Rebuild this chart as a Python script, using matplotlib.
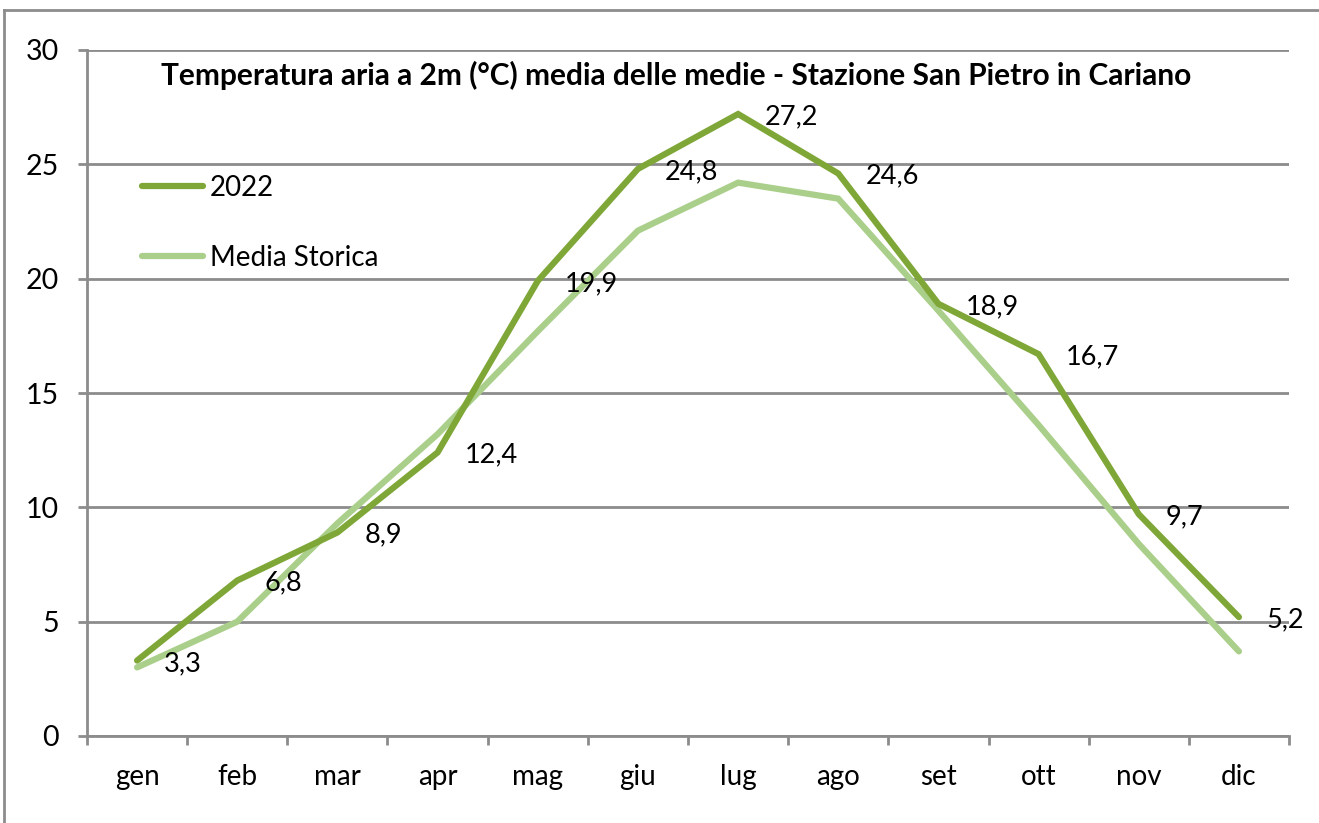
import numpy as np
import matplotlib
matplotlib.use("Agg")
import matplotlib.pyplot as plt
from matplotlib.lines import Line2D

# data
mesi = ["gen", "feb", "mar", "apr", "mag", "giu", "lug", "ago", "set", "ott", "nov", "dic"]
t_2022 = [3.3, 6.8, 8.9, 12.4, 19.9, 24.8, 27.2, 24.6, 18.9, 16.7, 9.7, 5.2]
media_storica = [3.0, 5.0, 9.3, 13.2, 17.7, 22.1, 24.2, 23.5, 18.6, 13.6, 8.4, 3.7]

plt.rcParams['font.family'] = ['Lato', 'DejaVu Sans']

dark = "#7FA738"
light = "#AACF8A"
grid_c = "#8C8C8C"

fig = plt.figure(figsize=(13.19, 8.23), dpi=100)
ax = fig.add_axes([87 / 1319, 1 - 736 / 823, (1289 - 87) / 1319, (736 - 50) / 823])

x = np.arange(len(mesi))
ax.plot(x, t_2022, color=dark, lw=4.5, solid_capstyle="round", solid_joinstyle="miter", label="2022", zorder=3)
ax.plot(x, media_storica, color=light, lw=4.5, solid_capstyle="round", solid_joinstyle="miter", label="Media Storica", zorder=2)

# data labels
for xi, v in zip(x, t_2022):
    ax.annotate(f"{v:.1f}".replace(".", ","), (xi, v), xytext=(19.5, -2), textcoords="offset points",
                ha="left", va="center", fontsize=19.5, color="black", zorder=4)

ax.set_xlim(-0.5, 11.5)
ax.set_ylim(0, 30)
ax.set_yticks(range(0, 31, 5))
ax.set_xticks(x)
ax.set_xticklabels(mesi)
ax.set_xticks(np.arange(-0.5, 12, 1), minor=True)
ax.tick_params(axis="x", which="major", length=0, pad=20, labelsize=20)
ax.tick_params(axis="x", which="minor", length=6.5, width=2, color=grid_c)
ax.tick_params(axis="y", length=6.5, width=2, color=grid_c, pad=14, labelsize=20.5)

ax.grid(axis="y", color=grid_c, lw=2)
ax.set_axisbelow(True)
for s in ["top", "right"]:
    ax.spines[s].set_visible(False)
for s in ["left", "bottom"]:
    ax.spines[s].set_color(grid_c)
    ax.spines[s].set_linewidth(2)

fig.text(676 / 1319, 1 - 75 / 823,
         "Temperatura aria a 2m (°C) media delle medie - Stazione San Pietro in Cariano",
         fontsize=21.5, fontweight="bold", ha="center", va="center")

ax.legend(loc="upper left", bbox_to_anchor=(0.025, 0.854), frameon=False, fontsize=20,
          handlelength=2.2, handletextpad=0.25, labelspacing=1.58)

# outer frame (left and top edges visible)
fig.add_artist(Line2D([4 / 1319, 4 / 1319], [0, 1 - 10 / 823], color=grid_c, lw=2, transform=fig.transFigure))
fig.add_artist(Line2D([4 / 1319, 1], [1 - 10 / 823, 1 - 10 / 823], color=grid_c, lw=2, transform=fig.transFigure))

fig.savefig("out.png", dpi=100)
